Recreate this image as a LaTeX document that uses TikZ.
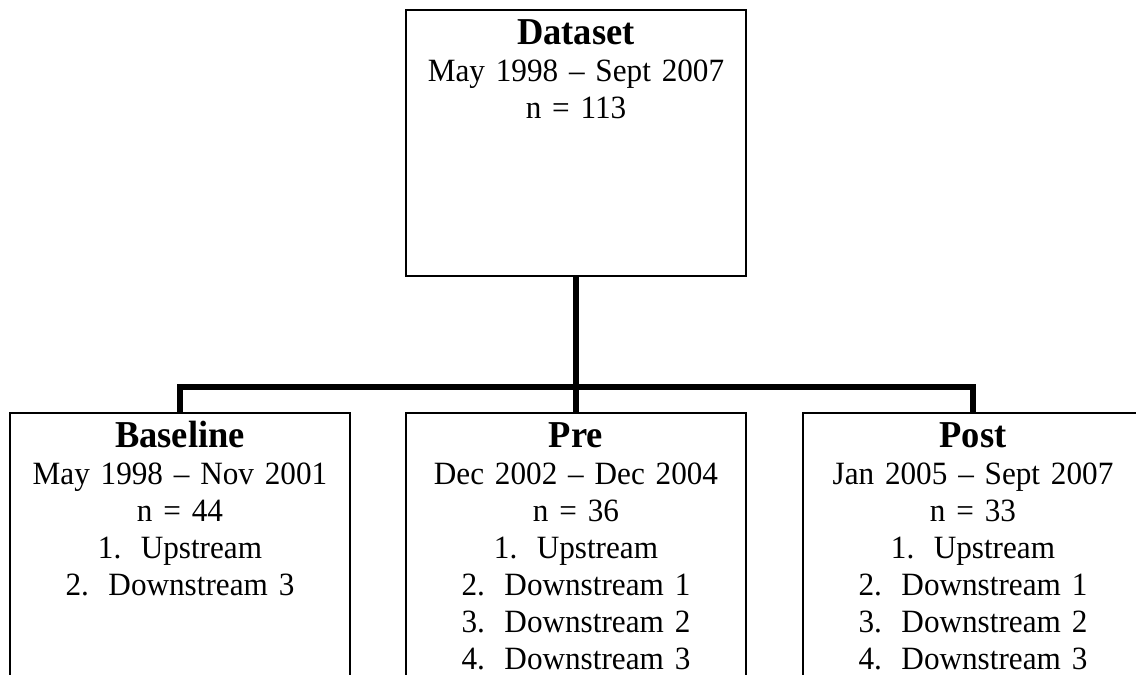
\documentclass[tikz,border=0pt]{standalone}
\usepackage{fontspec}
\setmainfont{Liberation Serif}[FakeStretch=0.96]
\newcommand{\headline}[1]{{\fontsize{38}{37}\selectfont\bfseries #1}}
\newcommand{\stepitem}[2]{#1.\hspace{0.6em}#2}
\begin{document}
\begin{tikzpicture}[x=1pt,y=1pt,
    box/.style={draw,line width=2pt,anchor=north,inner sep=0pt,text width=340pt,align=center,
      text height=34pt,font=\fontsize{32.5}{37}\selectfont},
    link/.style={line width=6pt}]
    \clip (0,0) rectangle (1136,-675);

    \node[box,text depth=232pt] (dataset) at (576,-9)
      {\headline{Dataset}\\ May 1998 -- Sept 2007\\ n = 113};

    \node[box,text depth=300pt] (baseline) at (180,-412)
      {\headline{Baseline}\\ May 1998 -- Nov 2001\\ n = 44\\
       \stepitem{1}{Upstream}\\ \stepitem{2}{Downstream 3}};
    \node[box,text depth=300pt] (pre) at (576,-412)
      {\headline{Pre}\\ Dec 2002 -- Dec 2004\\ n = 36\\
       \stepitem{1}{Upstream}\\ \stepitem{2}{Downstream 1}\\
       \stepitem{3}{Downstream 2}\\ \stepitem{4}{Downstream 3}};
    \node[box,text depth=300pt] (post) at (973,-412)
      {\headline{Post}\\ Jan 2005 -- Sept 2007\\ n = 33\\
       \stepitem{1}{Upstream}\\ \stepitem{2}{Downstream 1}\\
       \stepitem{3}{Downstream 2}\\ \stepitem{4}{Downstream 3}};

    \coordinate (bus) at (576,-387);
    \draw[link] (dataset.south) -- (pre.north);
    \draw[link] (baseline.north) |- (bus) -| (post.north);
  \end{tikzpicture}
\end{document}
